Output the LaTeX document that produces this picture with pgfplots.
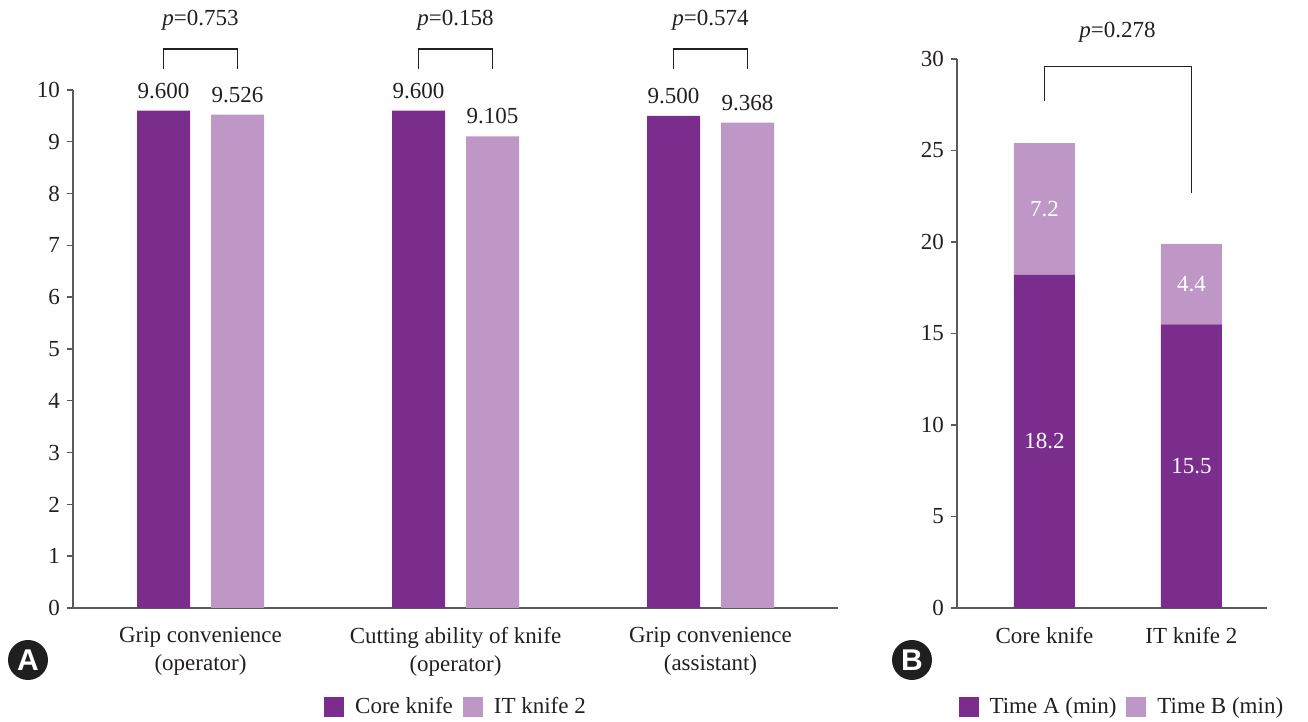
\documentclass[border=0pt]{standalone}
\usepackage{pgfplots}
\pgfplotsset{compat=1.18}
\usepackage{fontspec}
\setmainfont{Liberation Serif}
\newfontfamily\labelfont{Liberation Sans}
\definecolor{dark}{RGB}{123,45,142}
\definecolor{light}{RGB}{190,151,198}
\definecolor{axisgray}{RGB}{90,90,90}
\definecolor{txt}{RGB}{35,31,32}

\pgfplotsset{
  common/.style={
    scale only axis,
    anchor=south west,
    axis x line*=bottom, axis y line*=left,
    axis line style={axisgray, line width=0.7pt, -},
    ytick style={axisgray, line width=0.7pt},
    xtick style={draw=none},
    tick align=outside, major tick length=3pt,
    ymin=0,
    clip=false,
    font=\fontsize{11.5pt}{14pt}\selectfont,
    tick label style={text=txt},
    /pgf/number format/assume math mode=true,
    xticklabel style={align=center, yshift=-3pt},
    legend style={draw=none, fill=none, text=txt, font=\fontsize{11.5pt}{14pt}\selectfont,
      /tikz/every even column/.append style={column sep=3pt}},
    legend columns=-1,
  },
  sqlegend/.style={legend image code/.code={\fill[##1] (0pt,-5pt) rectangle (10pt,5pt); \path (13.5pt,0pt);}},
}

\begin{document}
\begin{tikzpicture}
\useasboundingbox (0,0) rectangle (654pt,361pt);

\begin{axis}[common,
  at={(36.5pt,57pt)}, width=382.5pt, height=259pt,
  xmin=-0.5, xmax=2.5, ymax=10, ytick={0,1,...,10},
  xtick={0,1,2},
  xticklabels={{Grip convenience\\(operator)},{Cutting ability of knife\\(operator)},{Grip convenience\\(assistant)}},
  ybar, bar width=26.5pt, sqlegend,
  nodes near coords,
  every node near coord/.append style={text=txt, yshift=2.5pt, font=\fontsize{11.5pt}{14pt}\selectfont,
    /pgf/number format/fixed, /pgf/number format/fixed zerofill, /pgf/number format/precision=3},
  legend style={at={(0.502,-0.191)}, anchor=center},
]
\addplot[fill=dark, draw=none, bar shift=-18.5pt] coordinates {(0,9.600) (1,9.600) (2,9.500)};
\addplot[fill=light, draw=none, bar shift=18.5pt] coordinates {(0,9.526) (1,9.105) (2,9.368)};
\legend{Core knife, IT knife 2}
\draw[txt, line width=0.6pt] (axis cs:-0.145,10.4) |- (axis cs:0.145,10.79) -- (axis cs:0.145,10.4);
\draw[txt, line width=0.6pt] (axis cs:0.855,10.4) |- (axis cs:1.145,10.79) -- (axis cs:1.145,10.4);
\draw[txt, line width=0.6pt] (axis cs:1.855,10.4) |- (axis cs:2.145,10.79) -- (axis cs:2.145,10.4);
\node[text=txt] at (axis cs:0,11.35) {\textit{p}=0.753};
\node[text=txt] at (axis cs:1,11.35) {\textit{p}=0.158};
\node[text=txt] at (axis cs:2,11.35) {\textit{p}=0.574};
\end{axis}

\begin{axis}[common,
  at={(478.5pt,57pt)}, width=155pt, height=274.5pt,
  xmin=-0.595, xmax=1.514, ymax=30, ytick={0,5,...,30},
  xtick={0,1}, xticklabels={Core knife, IT knife 2},
  ybar stacked, bar width=30.5pt, sqlegend,
  legend style={at={(0.535,-0.18)}, anchor=center},
  after end axis/.code={
    \node[text=white] at (axis cs:0,9.1) {18.2};
    \node[text=white] at (axis cs:1,7.75) {15.5};
    \node[text=white] at (axis cs:0,21.8) {7.2};
    \node[text=white] at (axis cs:1,17.7) {4.4};
  },
]
\addplot[fill=dark, draw=none] coordinates {(0,18.2) (1,15.5)};
\addplot[fill=light, draw=none] coordinates {(0,7.2) (1,4.4)};
\legend{Time A (min), Time B (min)}
\draw[txt, line width=0.6pt] (axis cs:0,27.7) |- (axis cs:1,29.6) -- (axis cs:1,22.7);
\node[text=txt] at (axis cs:0.497,31.45) {\textit{p}=0.278};
\end{axis}

\fill[black!88] (14pt,31pt) circle (10pt);
\node[text=white, font=\labelfont\bfseries\fontsize{15pt}{15pt}\selectfont] at (14pt,31pt) {A};
\fill[black!88] (456pt,31pt) circle (10pt);
\node[text=white, font=\labelfont\bfseries\fontsize{15pt}{15pt}\selectfont] at (456pt,31pt) {B};
\end{tikzpicture}
\end{document}
